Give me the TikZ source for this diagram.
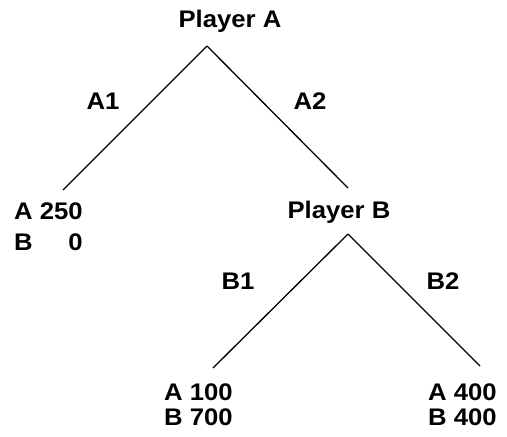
\documentclass[tikz,border=0pt]{standalone}
\usepackage{fontspec}
\setmainfont{Liberation Sans}

\begin{document}
\begin{tikzpicture}[x=1pt, y=-1pt,
        lbl/.style={inner sep=0pt, font=\fontsize{24}{28}\selectfont\bfseries, xscale=1.07},
        branch/.style={line width=1.3pt}]
        \useasboundingbox (0, 0) rectangle (507, 437);

        \node[lbl] (playerA) at (230, 21) { Player A };
        \node[lbl] (playerB) at (339, 212) { Player B };

        \coordinate (topA) at (207, 46);
        \coordinate (endA1) at (63, 190);
        \coordinate (endA2) at (348, 188);
        \coordinate (topB) at (348, 234);
        \coordinate (endB1) at (213, 368);
        \coordinate (endB2) at (480, 366);

        \draw[branch] (topA) -- (endA1);
        \draw[branch] (topA) -- (endA2);
        \draw[branch] (topB) -- (endB1);
        \draw[branch] (topB) -- (endB2);

        \node[lbl] (labA1) at (103, 101) { A1 };
        \node[lbl] (labA2) at (310, 101) { A2 };
        \node[lbl] (labB1) at (238, 281) { B1 };
        \node[lbl] (labB2) at (443, 281) { B2 };

        \node[lbl, anchor=west, align=left] (payA1) at (14, 229)
            { \begin{tabular}{@{}l@{ }r@{}} A & 250 \\[3pt] B & 0 \end{tabular} };
        \node[lbl, anchor=west, align=left] (payB1) at (164, 407)
            { \begin{tabular}{@{}l@{}} A 100 \\[-3pt] B 700 \end{tabular} };
        \node[lbl, anchor=east, align=left] (payB2) at (504, 407)
            { \begin{tabular}{@{}l@{}} A 400 \\[-3pt] B 400 \end{tabular} };
    \end{tikzpicture}
\end{document}
